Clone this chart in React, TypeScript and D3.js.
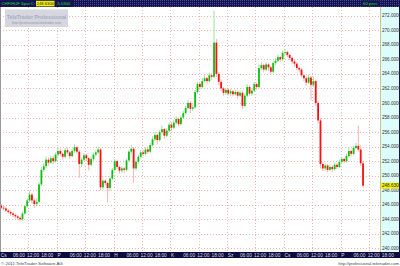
import React from "react";
import * as d3 from "d3";

const symbolText = "CHF/HUF Spot C:";
const lastPriceText = "248.6300";
const changeText = "-5.0300";
const periodText = "60 perc";

const firstOpen = 245.9;
const closes = [
  245.6, 245.5, 245.2, 245.0, 244.8, 244.6, 244.4, 244.2, 244.0, 244.8,
  245.8, 246.6, 247.4, 246.6, 246.1, 246.4, 248.8, 250.8, 251.3, 252.2,
  251.8, 252.4, 252.0, 252.9, 253.4, 253.0, 252.6, 253.5, 253.2, 252.7,
  253.4, 253.9, 253.3, 251.6, 252.2, 252.8, 252.4, 251.5, 252.3, 252.9,
  253.2, 253.6, 248.4, 249.3, 249.0, 248.3, 249.6, 250.8, 252.0, 251.2,
  250.7, 251.0, 250.8, 252.1, 253.3, 253.7, 251.0, 251.9, 252.6, 253.2,
  253.0, 253.6, 253.3, 254.2, 255.0, 255.6, 254.9, 256.0, 256.4, 255.5,
  256.2, 257.0, 256.6, 257.3, 257.8, 257.1, 258.0, 258.6, 259.3, 260.0,
  259.2, 259.4, 261.5, 262.6, 262.2, 263.0, 263.4, 263.0, 263.8, 263.6,
  268.3, 264.0, 262.9, 262.0, 261.4, 261.8, 261.3, 261.6, 261.2, 261.5,
  261.0, 261.4, 259.6, 261.0, 262.2, 261.3, 261.7, 262.6, 262.2, 264.8,
  265.2, 264.6, 265.3, 264.9, 264.3, 265.5, 265.8, 266.3, 266.0, 266.9,
  267.0, 266.6, 266.2, 265.7, 265.4, 264.8, 264.6, 263.8, 263.4, 262.8,
  263.5, 262.5, 263.0, 260.0, 257.6, 251.6, 251.0, 251.4, 250.8, 251.2,
  250.9, 251.5, 251.2, 251.9, 252.3, 252.0, 252.7, 253.4, 253.0, 253.8,
  254.1, 253.6, 251.7, 248.63,
];
const highs = [
  246.1, 245.9, 245.7, 245.4, 245.2, 245.0, 244.8, 244.6, 244.4, 245.0,
  246.0, 246.9, 247.9, 247.6, 246.8, 246.9, 249.1, 251.2, 251.7, 252.6,
  252.5, 252.8, 252.7, 253.2, 253.9, 253.7, 253.2, 253.8, 253.9, 253.4,
  253.7, 254.3, 254.1, 253.5, 252.5, 253.1, 253.0, 252.6, 252.6, 253.2,
  253.5, 254.0, 253.8, 249.6, 249.5, 249.2, 249.9, 251.1, 252.3, 252.2,
  251.4, 251.3, 251.2, 252.3, 253.5, 254.2, 253.9, 252.2, 252.9, 253.5,
  253.6, 253.9, 253.9, 254.5, 255.4, 256.0, 255.8, 256.3, 256.9, 256.6,
  256.5, 257.3, 257.4, 257.6, 258.2, 258.0, 258.3, 258.9, 259.6, 260.4,
  260.2, 259.8, 261.8, 262.9, 262.8, 263.4, 263.8, 263.6, 264.2, 264.1,
  272.7, 268.8, 264.3, 263.2, 262.2, 262.1, 262.0, 261.9, 261.8, 261.8,
  261.7, 261.7, 261.6, 261.3, 262.6, 262.4, 262.0, 262.9, 262.8, 265.3,
  265.6, 265.4, 265.6, 265.5, 265.1, 265.8, 266.2, 266.6, 266.5, 267.2,
  267.4, 267.2, 266.8, 266.4, 265.9, 265.6, 265.0, 264.8, 264.0, 263.6,
  263.9, 263.7, 263.6, 263.2, 260.3, 257.9, 251.9, 251.7, 251.6, 251.5,
  251.4, 251.8, 251.7, 252.2, 252.6, 252.5, 253.0, 253.8, 253.6, 254.1,
  254.5, 256.9, 254.2, 252.0,
];
const lows = [
  245.4, 245.2, 245.0, 244.7, 244.5, 244.3, 244.1, 243.9, 243.7, 243.8,
  244.6, 245.6, 246.4, 246.2, 245.6, 245.8, 246.2, 248.6, 250.5, 251.0,
  251.4, 251.6, 251.6, 251.8, 252.6, 252.7, 252.2, 252.4, 252.9, 252.3,
  252.5, 253.1, 253.0, 249.7, 251.2, 252.0, 252.0, 250.7, 251.3, 252.0,
  252.6, 253.0, 248.0, 248.1, 248.7, 246.3, 247.9, 249.4, 250.6, 250.9,
  250.3, 250.4, 250.4, 250.6, 251.9, 253.0, 249.0, 250.7, 251.6, 252.4,
  252.7, 252.8, 253.0, 253.1, 254.0, 254.8, 254.3, 254.7, 255.8, 255.1,
  255.3, 256.0, 256.2, 256.4, 257.0, 256.8, 256.9, 257.8, 258.4, 259.1,
  258.6, 258.9, 259.2, 261.3, 261.8, 262.0, 262.8, 262.6, 262.8, 263.2,
  263.4, 263.6, 262.5, 261.6, 261.0, 261.1, 261.0, 261.0, 260.9, 261.0,
  260.6, 260.8, 259.2, 259.4, 260.8, 261.0, 261.0, 261.5, 261.8, 262.0,
  264.5, 264.2, 264.4, 264.4, 263.9, 264.1, 265.2, 265.6, 265.6, 265.8,
  266.6, 266.3, 265.9, 265.4, 265.0, 264.5, 264.2, 263.5, 263.0, 262.4,
  262.6, 260.4, 262.2, 259.6, 257.2, 251.0, 250.6, 250.7, 250.5, 250.6,
  250.5, 250.7, 250.9, 251.0, 251.7, 251.7, 251.8, 252.5, 252.7, 252.8,
  253.6, 253.3, 251.3, 248.4,
];

const dayLabels = ["Cs", "P", "H", "K", "Sz", "Cs", "P"];
const hourLabels = ["06:00", "12:00", "18:00"];
const yTicks = [240, 242, 244, 246, 248, 250, 252, 254, 256, 258, 260, 262, 264, 266, 268, 270, 272];
const lastPrice = 248.63;

const W = 400;
const H = 266;
const plotLeft = 0;
const plotRight = 380;
const plotTop = 7;
const plotBottom = 252;

export default function App() {
  const x = d3.scaleLinear().domain([0, 160]).range([1.2, 1.2 + 160 * 2.365]);
  const y = d3.scaleLinear().domain([240, 272]).range([248.4, 15.7]);
  const opens = closes.map((c, i) => (i === 0 ? firstOpen : closes[i - 1]));

  const xTicks: { idx: number; label: string; day: boolean }[] = [];
  dayLabels.forEach((d, di) => {
    xTicks.push({ idx: di * 24, label: d, day: true });
    hourLabels.forEach((h, hi) => xTicks.push({ idx: di * 24 + (hi + 1) * 6, label: h, day: false }));
  });
  const vGrid = d3.range(0, 160, 12);
  const font = "'Liberation Sans', Arial, sans-serif";

  return (
    <svg width={W} height={H} style={{ position: "absolute", left: 0, top: 0, display: "block" }} fontFamily={font}>
      <defs>
        <pattern id="chk" width="2" height="2" patternUnits="userSpaceOnUse">
          <rect width="2" height="2" fill="#141452" />
          <rect width="1" height="1" fill="#46468a" />
        </pattern>
        <clipPath id="plotclip">
          <rect x={plotLeft} y={plotTop} width={plotRight - plotLeft} height={plotBottom - plotTop} />
        </clipPath>
      </defs>
      <rect width={W} height={H} fill="#ffffff" />
      {/* header */}
      <rect x={0} y={0} width={W} height={plotTop} fill="url(#chk)" />
      <rect x={0} y={0} width={73} height={plotTop} fill="#141452" />
      <text x={1.5} y={5.3} fontSize={4.2} fill="#22dd22">{symbolText}</text>
      <rect x={36} y={0.8} width={18.5} height={5.6} fill="#f0f000" />
      <text x={36.6} y={5.3} fontSize={4.2} fill="#202020">{lastPriceText}</text>
      <text x={56} y={5.3} fontSize={4.2} fill="#22dd22">{changeText}</text>
      <rect x={361} y={0.5} width={18} height={6} fill="#141452" />
      <text x={363} y={5.3} fontSize={4.4} fill="#22dd22">{periodText}</text>

      {/* grid */}
      <g clipPath="url(#plotclip)">
        {yTicks.map((t) => (
          <line key={"h" + t} x1={plotLeft} x2={plotRight} y1={Math.round(y(t)) + 0.5} y2={Math.round(y(t)) + 0.5}
            stroke="#f2b4b4" strokeWidth={1} strokeDasharray="1,2" />
        ))}
        {vGrid.map((g) => (
          <line key={"v" + g} x1={Math.round(x(g) - 1.2) + 0.5} x2={Math.round(x(g) - 1.2) + 0.5} y1={plotTop} y2={plotBottom}
            stroke="#f2b4b4" strokeWidth={1} strokeDasharray="1,2" />
        ))}
      </g>

      {/* watermark */}
      <rect x={5} y={9.5} width={63} height={17.5} fill="#d6d6de" />
      <text x={36.5} y={18.5} fontSize={5.3} fontWeight="bold" fill="#a4acc6" textAnchor="middle">TeleTrader Professional</text>
      <text x={36.5} y={24.4} fontSize={3.4} fill="#9494a8" textAnchor="middle">http://professional.teletrader.com</text>

      {/* candles */}
      <g clipPath="url(#plotclip)">
        {closes.map((c, i) => {
          const o = opens[i];
          const up = c >= o;
          const cx = x(i);
          const top = y(Math.max(o, c));
          const bot = y(Math.min(o, c));
          return (
            <g key={i}>
              <line x1={cx} x2={cx} y1={y(highs[i])} y2={y(lows[i])} stroke={up ? "#a0e0a0" : "#ffb0b0"} strokeWidth={1} />
              <rect x={cx - 0.9} y={top} width={1.8} height={Math.max(0.8, bot - top)} fill={up ? "#10c010" : "#ff1010"} />
            </g>
          );
        })}
      </g>

      {/* left border */}
      <line x1={0.5} x2={0.5} y1={plotTop} y2={plotBottom} stroke="#9a9a9a" />

      {/* right axis */}
      <rect x={plotRight} y={plotTop} width={W - plotRight} height={plotBottom - plotTop} fill="#ddfcfc" />
      <line x1={plotRight + 0.5} x2={plotRight + 0.5} y1={plotTop} y2={plotBottom} stroke="#c8c48a" />
      <line x1={W - 0.5} x2={W - 0.5} y1={plotTop} y2={plotBottom} stroke="#141452" />
      {yTicks.map((t) => (
        <text key={"yl" + t} x={382} y={y(t) + 1.6} fontSize={4.6} fill="#333333">{t.toFixed(4)}</text>
      ))}
      <rect x={381} y={y(lastPrice) - 3} width={18} height={6} fill="#f4f400" />
      <text x={382} y={y(lastPrice) + 1.6} fontSize={4.6} fill="#202020">{lastPrice.toFixed(4)}</text>

      {/* bottom axis */}
      <rect x={0} y={plotBottom} width={W} height={6} fill="#0c0c40" />
      {xTicks.map((t, i) => (
        <text key={"xl" + i} x={x(t.idx) - (t.day ? 0.5 : 2.5)} y={257} fontSize={4.8} fill="#dcdcdc">{t.label}</text>
      ))}

      {/* footer */}
      <text x={1} y={264.5} fontSize={4.4} fill="#444444">© 2011 TeleTrader Software AG</text>
      <text x={399} y={264.5} fontSize={4.2} fill="#444444" textAnchor="end">http://professional.teletrader.com</text>
    </svg>
  );
}
